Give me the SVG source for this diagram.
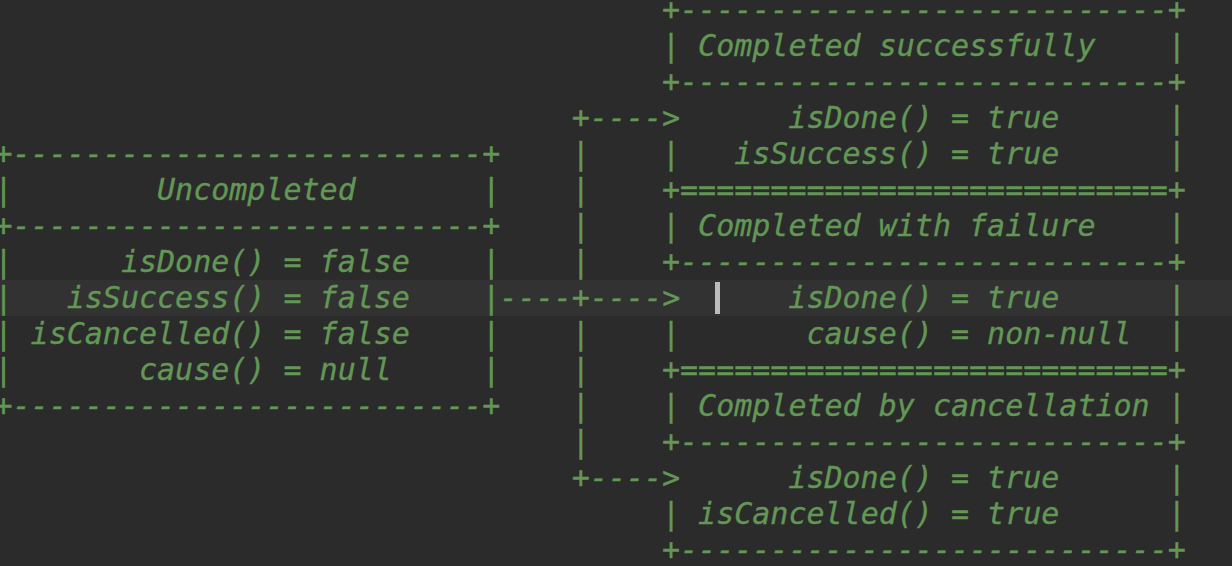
<svg xmlns="http://www.w3.org/2000/svg" width="1232" height="566" viewBox="0 0 1232 566" xml:space="preserve">
<style>
  text { font-family: "DejaVu Sans Mono", "Liberation Mono", monospace; font-size: 30px; font-style: italic; fill: #629755; stroke: #629755; stroke-width: 0.35px; white-space: pre; }
  .u { font-style: normal; }
</style>
<rect x="0" y="0" width="1232" height="566" fill="#2b2b2b"/>
<rect x="0" y="280" width="1232" height="36" fill="#323232"/>
<g id="uncompleted">
  <text x="-5.5" y="164">+--------------------------+</text>
  <text x="-5.5" y="200"><tspan class="u">|</tspan>        Uncompleted       <tspan class="u">|</tspan></text>
  <text x="-5.5" y="236">+--------------------------+</text>
  <text x="-5.5" y="272"><tspan class="u">|</tspan>      isDone() = false    <tspan class="u">|</tspan></text>
  <text x="-5.5" y="308"><tspan class="u">|</tspan>   isSuccess() = false    <tspan class="u">|</tspan></text>
  <text x="-5.5" y="344"><tspan class="u">|</tspan> isCancelled() = false    <tspan class="u">|</tspan></text>
  <text x="-5.5" y="380"><tspan class="u">|</tspan>       cause() = null     <tspan class="u">|</tspan></text>
  <text x="-5.5" y="416">+--------------------------+</text>
</g>
<g id="completed-successfully">
  <text x="662" y="20">+---------------------------+</text>
  <text x="662" y="56"><tspan class="u">|</tspan> Completed successfully    <tspan class="u">|</tspan></text>
  <text x="662" y="92">+---------------------------+</text>
  <text x="680" y="128">      isDone() = true      <tspan class="u">|</tspan></text>
  <text x="662" y="164"><tspan class="u">|</tspan>   isSuccess() = true      <tspan class="u">|</tspan></text>
</g>
<g id="completed-with-failure">
  <text x="662" y="200">+===========================+</text>
  <text x="662" y="236"><tspan class="u">|</tspan> Completed with failure    <tspan class="u">|</tspan></text>
  <text x="662" y="272">+---------------------------+</text>
  <text x="680" y="308">      isDone() = true      <tspan class="u">|</tspan></text>
  <text x="662" y="344"><tspan class="u">|</tspan>       cause() = non-null  <tspan class="u">|</tspan></text>
</g>
<g id="completed-by-cancellation">
  <text x="662" y="380">+===========================+</text>
  <text x="662" y="416"><tspan class="u">|</tspan> Completed by cancellation <tspan class="u">|</tspan></text>
  <text x="662" y="452">+---------------------------+</text>
  <text x="680" y="488">      isDone() = true      <tspan class="u">|</tspan></text>
  <text x="662" y="524"><tspan class="u">|</tspan> isCancelled() = true      <tspan class="u">|</tspan></text>
  <text x="662" y="560">+---------------------------+</text>
</g>
<g id="connectors">
  <text x="571.8" y="128">+----&gt;</text>
  <text x="571.8" y="164" class="u">|</text>
  <text x="571.8" y="200" class="u">|</text>
  <text x="571.8" y="236" class="u">|</text>
  <text x="571.8" y="272" class="u">|</text>
  <text x="499.6" y="308">----+----&gt;</text>
  <text x="571.8" y="344" class="u">|</text>
  <text x="571.8" y="380" class="u">|</text>
  <text x="571.8" y="416" class="u">|</text>
  <text x="571.8" y="452" class="u">|</text>
  <text x="571.8" y="488">+----&gt;</text>
</g>
<rect x="715" y="282" width="5" height="32" fill="#bbbbbb"/>
</svg>
